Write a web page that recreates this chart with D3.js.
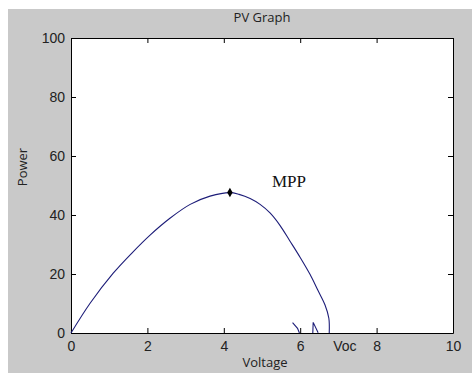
<!DOCTYPE html>
<html>
<head>
<meta charset="utf-8">
<script src="https://cdn.jsdelivr.net/npm/d3@7"></script>
<style>
  body { margin: 0; background: #fff; }
  svg { display: block; }
</style>
</head>
<body>
<div id="chart"></div>
<script>
// PV curve
const voltage = [0, 0.5, 1.1, 1.6, 2.07, 2.59, 3.12, 3.64, 4.16, 4.4, 4.69, 4.95, 5.21, 5.47, 5.73, 6.0, 6.26, 6.45, 6.65, 6.75, 6.76];
const power   = [0, 10.1, 20.2, 27.2, 33.2, 38.9, 43.6, 46.4, 47.6, 47.0, 45.6, 43.6, 40.7, 36.5, 31.2, 25.6, 19.8, 14.8, 9.5, 5.0, 0];

// little glitches near the axis
const glitchA = { v: [5.80, 5.93, 5.98], p: [3.5, 1.6, 0] };
const glitchB = { v: [6.33, 6.34, 6.47], p: [0, 3.6, 0.1] };

const mpp = { v: 4.16, p: 47.6 };
const voc = 6.76;

const xTicks = [0, 2, 4, 6, 8, 10];
const yTicks = [0, 20, 40, 60, 80, 100];

const W = 472, H = 373;
const plot = { left: 71, right: 453, top: 38, bottom: 333 };

const svg = d3.select("#chart").append("svg")
    .attr("width", W)
    .attr("height", H)
    .style("font-family", "'Liberation Sans', Arial, sans-serif");

// figure background (gray with a white strip top/left)
svg.append("rect").attr("x", 8).attr("y", 9).attr("width", W - 8).attr("height", H - 9).attr("fill", "#c9c9c9");

const x = d3.scaleLinear().domain([0, 10]).range([plot.left, plot.right]);
const y = d3.scaleLinear().domain([0, 100]).range([plot.bottom, plot.top]);

svg.append("rect")
    .attr("x", plot.left).attr("y", plot.top)
    .attr("width", plot.right - plot.left).attr("height", plot.bottom - plot.top)
    .attr("fill", "#fff");

// axes, ticks pointing inward like matlab
const styleAxis = g => {
    g.selectAll(".domain").attr("stroke", "#000");
    g.selectAll(".tick line").attr("stroke", "#000");
    g.selectAll(".tick text").attr("fill", "#222").style("font-size", "14px");
};

svg.append("g")
    .attr("transform", `translate(0,${plot.bottom})`)
    .call(d3.axisBottom(x).tickValues(xTicks).tickSizeInner(-5).tickSizeOuter(0).tickPadding(7))
    .call(styleAxis)
    .call(g => g.selectAll(".tick text").attr("dy", "0.75em"));

svg.append("g")
    .attr("transform", `translate(0,${plot.top})`)
    .call(d3.axisTop(x).tickValues(xTicks).tickSizeInner(-5).tickSizeOuter(0).tickFormat(""))
    .call(styleAxis);

svg.append("g")
    .attr("transform", `translate(${plot.left},0)`)
    .call(d3.axisLeft(y).tickValues(yTicks).tickSizeInner(-5).tickSizeOuter(0).tickPadding(6))
    .call(styleAxis);

svg.append("g")
    .attr("transform", `translate(${plot.right},0)`)
    .call(d3.axisRight(y).tickValues(yTicks).tickSizeInner(-5).tickSizeOuter(0).tickFormat(""))
    .call(styleAxis);

const line = d3.line()
    .x(d => x(d[0]))
    .y(d => y(d[1]));

const lineColor = "#1c1c78";

svg.append("path")
    .datum(d3.zip(voltage, power))
    .attr("fill", "none")
    .attr("stroke", lineColor)
    .attr("stroke-width", 1.1)
    .attr("d", line.curve(d3.curveCatmullRom.alpha(0.5)));

[glitchA, glitchB].forEach(gl => {
    svg.append("path")
        .datum(d3.zip(gl.v, gl.p))
        .attr("fill", "none")
        .attr("stroke", lineColor)
        .attr("stroke-width", 1.1)
        .attr("d", line.curve(d3.curveLinear));
});

// MPP marker
svg.append("path")
    .attr("d", d3.symbol(d3.symbolDiamond, 26)())
    .attr("transform", `translate(${x(mpp.v)},${y(mpp.p)})`)
    .attr("fill", "#000");

svg.append("text")
    .attr("x", x(mpp.v) + 42)
    .attr("y", y(mpp.p) - 6)
    .style("font-family", "'Liberation Serif', 'Times New Roman', serif")
    .style("font-size", "17px")
    .attr("fill", "#111")
    .text("MPP");

svg.append("text")
    .attr("x", x(voc) + 4)
    .attr("y", plot.bottom + 18)
    .style("font-size", "14px")
    .attr("fill", "#222")
    .text("Voc");

// titles
svg.append("text")
    .attr("x", (plot.left + plot.right) / 2)
    .attr("y", 22)
    .attr("text-anchor", "middle")
    .style("font-family", "'Open Sans', sans-serif")
    .style("font-size", "13px")
    .attr("fill", "#222")
    .text("PV Graph");

svg.append("text")
    .attr("x", (plot.left + plot.right) / 2 + 3)
    .attr("y", 367)
    .attr("text-anchor", "middle")
    .style("font-family", "'Open Sans', sans-serif")
    .style("font-size", "13px")
    .attr("fill", "#222")
    .text("Voltage");

svg.append("text")
    .attr("transform", `translate(27,167) rotate(-90)`)
    .attr("text-anchor", "middle")
    .style("font-family", "'Open Sans', sans-serif")
    .style("font-size", "13px")
    .attr("fill", "#222")
    .text("Power");
</script>
</body>
</html>
